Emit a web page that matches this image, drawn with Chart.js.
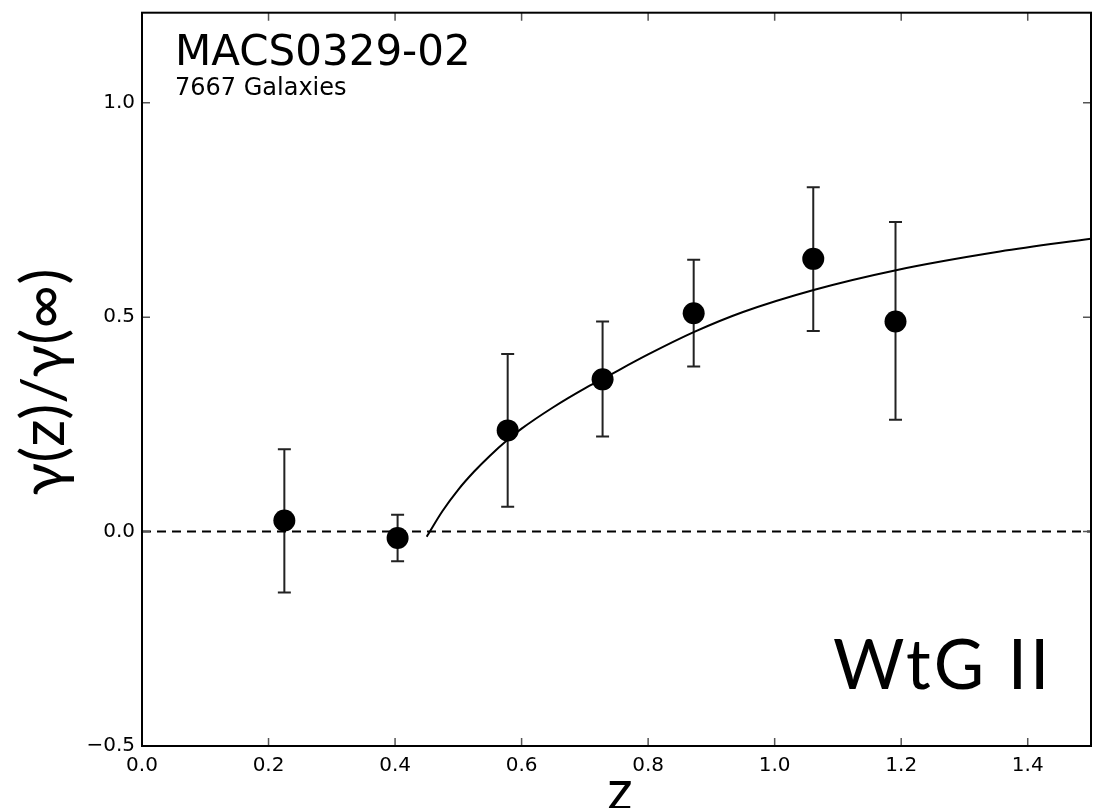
<!DOCTYPE html>
<html><head><meta charset="utf-8">
<script src="https://cdn.jsdelivr.net/npm/chart.js@4.4.0/dist/chart.umd.min.js"></script>
<style>html,body{margin:0;padding:0;background:#fff}#wrap{width:1102px;height:808px;position:relative;overflow:hidden}</style>
</head><body><div id="wrap"><canvas id="c" width="1102" height="808"></canvas></div>
<script>
// Measured data points
const pointZ     = [0.225, 0.404, 0.578, 0.728, 0.872, 1.061, 1.191];
const pointRatio = [0.026, -0.015, 0.236, 0.355, 0.509, 0.636, 0.490];
const errUpper   = [0.192, 0.039, 0.414, 0.490, 0.634, 0.803, 0.722];
const errLower   = [-0.142, -0.069, 0.058, 0.222, 0.385, 0.468, 0.261];
// Model curve
const curveZ     = [0.450, 0.475, 0.500, 0.525, 0.550, 0.578, 0.600, 0.650, 0.700, 0.728, 0.800, 0.872, 0.950, 1.063, 1.190, 1.356, 1.500];
const curveRatio = [-0.012, 0.048, 0.098, 0.140, 0.177, 0.214, 0.240, 0.290, 0.334, 0.356, 0.413, 0.465, 0.512, 0.564, 0.609, 0.653, 0.683];
// Zero reference line
const zeroZ      = [0.0, 1.5];
const zeroRatio  = [0.0, 0.0];
// Ticks
const xTicks = [0.0, 0.2, 0.4, 0.6, 0.8, 1.0, 1.2, 1.4];
const yTicks = [-0.5, 0.0, 0.5, 1.0];
const clusterName = 'MACS0329-02';
const galaxyCount = '7667 Galaxies';
const stamp = 'WtG II';

const fmt = v => (v < 0 ? '\u2212' : '') + Math.abs(v).toFixed(1);

const deco = {
  id: 'deco',
  beforeDatasetsDraw(chart) {
    const {ctx, scales: {x, y}} = chart;
    ctx.save();
    ctx.strokeStyle = '#222';
    ctx.lineWidth = 2;
    for (let i = 0; i < pointZ.length; i++) {
      const px = x.getPixelForValue(pointZ[i]);
      const t = y.getPixelForValue(errUpper[i]);
      const b = y.getPixelForValue(errLower[i]);
      ctx.beginPath();
      ctx.moveTo(px, t); ctx.lineTo(px, b);
      ctx.moveTo(px - 6.5, t); ctx.lineTo(px + 6.5, t);
      ctx.moveTo(px - 6.5, b); ctx.lineTo(px + 6.5, b);
      ctx.stroke();
    }
    ctx.restore();
  },
  afterDraw(chart) {
    const {ctx, chartArea: a, scales: {x, y}} = chart;
    ctx.save();
    // inward ticks on all sides
    ctx.strokeStyle = '#555';
    ctx.lineWidth = 1.5;
    ctx.beginPath();
    xTicks.forEach(v => {
      const px = x.getPixelForValue(v);
      ctx.moveTo(px, a.bottom); ctx.lineTo(px, a.bottom - 8);
      ctx.moveTo(px, a.top); ctx.lineTo(px, a.top + 8);
    });
    yTicks.forEach(v => {
      const py = y.getPixelForValue(v);
      ctx.moveTo(a.left, py); ctx.lineTo(a.left + 8, py);
      ctx.moveTo(a.right, py); ctx.lineTo(a.right - 8, py);
    });
    ctx.stroke();
    // frame
    ctx.strokeStyle = '#000';
    ctx.lineWidth = 2;
    ctx.strokeRect(a.left, a.top, a.right - a.left, a.bottom - a.top);
    // texts
    ctx.fillStyle = '#000';
    ctx.textAlign = 'left';
    ctx.textBaseline = 'alphabetic';
    ctx.font = '42px "DejaVu Sans"';
    ctx.fillText(clusterName, 175, 65);
    ctx.font = '24px "DejaVu Sans"';
    ctx.fillText(galaxyCount, 175, 95);
    ctx.font = '69px Lato';
    ctx.letterSpacing = '3px';
    ctx.fillText(stamp, 833, 689);
    ctx.letterSpacing = '0px';
    // axis titles
    ctx.textAlign = 'center';
    ctx.font = '56px Lato';
    ctx.fillText('z', 620, 810);
    ctx.save();
    ctx.translate(64, 382);
    ctx.rotate(-Math.PI / 2);
    ctx.font = '60px Lato';
    ctx.fillText('\u03B3(z)/\u03B3(\u221E)', 0, 0);
    ctx.restore();
    ctx.restore();
  }
};

new Chart(document.getElementById('c'), {
  data: {
    datasets: [
      {
        type: 'scatter',
        data: pointZ.map((z, i) => ({x: z, y: pointRatio[i]})),
        backgroundColor: '#000', borderColor: '#000',
        pointRadius: 11, pointHoverRadius: 11, borderWidth: 0
      },
      {
        type: 'line',
        data: curveZ.map((z, i) => ({x: z, y: curveRatio[i]})),
        borderColor: '#000', borderWidth: 2, pointRadius: 0,
        cubicInterpolationMode: 'monotone', fill: false
      },
      {
        type: 'line',
        data: zeroZ.map((z, i) => ({x: z, y: zeroRatio[i]})),
        borderColor: '#000', borderWidth: 2, borderDash: [9, 6], pointRadius: 0, fill: false
      }
    ]
  },
  options: {
    responsive: false,
    animation: false,
    devicePixelRatio: 1,
    layout: {padding: {left: 0, right: 11, top: 12.7, bottom: 22}},
    plugins: {legend: {display: false}, tooltip: {enabled: false}},
    scales: {
      x: {
        type: 'linear', position: 'bottom', min: 0, max: 1.5,
        grid: {display: false, drawTicks: false},
        border: {display: false},
        afterBuildTicks: s => { s.ticks = xTicks.map(v => ({value: v})); },
        afterFit: s => { s.height = 40; s.paddingLeft = 0; s.paddingRight = 0; },
        ticks: {padding: 8, color: '#000', font: {family: 'DejaVu Sans', size: 20}, callback: v => fmt(v), maxRotation: 0, autoSkip: false}
      },
      y: {
        type: 'linear', position: 'left', min: -0.5, max: 1.21,
        grid: {display: false, drawTicks: false},
        border: {display: false},
        afterBuildTicks: s => { s.ticks = yTicks.map(v => ({value: v})); },
        afterFit: s => { s.width = 142; s.paddingTop = 0; s.paddingBottom = 0; },
        ticks: {padding: 7, color: '#000', font: {family: 'DejaVu Sans', size: 20}, callback: v => fmt(v), autoSkip: false}
      }
    }
  },
  plugins: [deco]
});
</script>
</body></html>
